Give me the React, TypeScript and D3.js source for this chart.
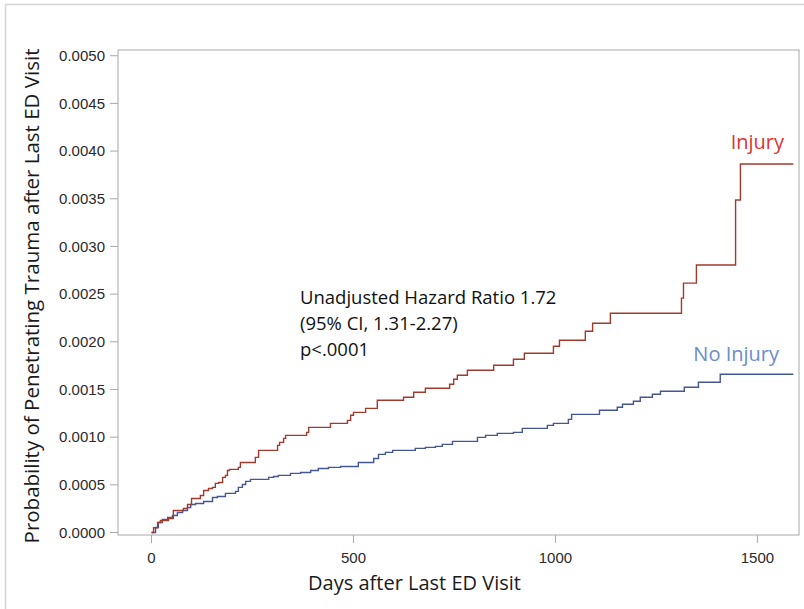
import React from 'react';
import * as d3 from 'd3';

// cumulative incidence, step points
const injuryDays = [0, 5, 15, 22, 42, 54, 79, 89, 99, 121, 129, 141, 151, 158, 166, 176, 183, 188, 193, 215, 220, 257, 265, 312, 317, 327, 332, 384, 389, 443, 485, 493, 500, 530, 559, 624, 649, 678, 738, 748, 757, 782, 847, 896, 923, 995, 1010, 1074, 1092, 1136, 1312, 1317, 1349, 1446, 1458, 1589];
const injuryProb = [0, 0.00005, 0.000105, 0.000126, 0.000147, 0.000231, 0.000252, 0.000294, 0.000357, 0.000389, 0.000441, 0.000462, 0.000473, 0.000515, 0.000525, 0.000578, 0.000599, 0.000651, 0.000662, 0.000683, 0.000735, 0.000788, 0.000861, 0.000914, 0.000945, 0.000987, 0.001019, 0.00105, 0.001103, 0.001145, 0.001176, 0.001229, 0.00126, 0.001302, 0.001387, 0.001418, 0.001471, 0.001513, 0.001555, 0.001607, 0.001649, 0.001702, 0.001754, 0.001817, 0.00188, 0.001954, 0.002017, 0.002111, 0.002195, 0.0023, 0.002458, 0.002615, 0.002805, 0.003487, 0.003865, 0.003865];

const noInjuryDays = [0, 10, 17, 27, 40, 52, 64, 77, 89, 97, 109, 129, 151, 163, 183, 208, 215, 225, 233, 245, 290, 302, 314, 344, 369, 394, 413, 438, 468, 512, 550, 562, 579, 597, 653, 678, 703, 720, 745, 807, 827, 856, 896, 918, 980, 995, 1032, 1040, 1109, 1153, 1166, 1193, 1210, 1240, 1260, 1319, 1354, 1408, 1589];
const noInjuryProb = [0, 0.000053, 0.000105, 0.000137, 0.000158, 0.000179, 0.00021, 0.000231, 0.000263, 0.000294, 0.000305, 0.000326, 0.000368, 0.000378, 0.00041, 0.000431, 0.000473, 0.000504, 0.000536, 0.000557, 0.000578, 0.000588, 0.000599, 0.00062, 0.00063, 0.000651, 0.000672, 0.000683, 0.000693, 0.000735, 0.000777, 0.000819, 0.00084, 0.000861, 0.000882, 0.000893, 0.000903, 0.000924, 0.000956, 0.000998, 0.001019, 0.00104, 0.00105, 0.001092, 0.001124, 0.001145, 0.001187, 0.001239, 0.001282, 0.001313, 0.001345, 0.001376, 0.001418, 0.00145, 0.001481, 0.001523, 0.001576, 0.00166, 0.00166];

const yTicks = [0, 0.0005, 0.001, 0.0015, 0.002, 0.0025, 0.003, 0.0035, 0.004, 0.0045, 0.005];
const xTicks = [0, 500, 1000, 1500];

const annotation = ['Unadjusted Hazard Ratio 1.72', '(95% CI, 1.31-2.27)', 'p<.0001'];

const W = 804;
const H = 609;
const frame = { left: 118, right: 799, top: 50, bottom: 535 };

const tickFont = '"Liberation Sans", Arial, sans-serif';
const textFont = '"Open Sans", "Noto Sans", sans-serif';

export default function App() {
  const x = d3.scaleLinear().domain([-83, 1603]).range([frame.left, frame.right]);
  const y = d3.scaleLinear().domain([-0.000026, 0.00506]).range([frame.bottom, frame.top]);

  const line = d3
    .line<[number, number]>()
    .x((d) => x(d[0]))
    .y((d) => y(d[1]))
    .curve(d3.curveStepAfter);

  const injuryPath = line(injuryDays.map((d, i) => [d, injuryProb[i]]) as [number, number][]);
  const noInjuryPath = line(noInjuryDays.map((d, i) => [d, noInjuryProb[i]]) as [number, number][]);

  return (
    <svg
      width={W}
      height={H}
      style={{ position: 'absolute', left: 0, top: 0, background: '#fff' }}
    >
      {/* outer screenshot border */}
      <line x1={5.5} x2={5.5} y1={4} y2={H} stroke="#d4d4d4" strokeWidth={1.5} />
      <line x1={5} x2={W} y1={4.5} y2={4.5} stroke="#d4d4d4" strokeWidth={1.5} />

      {/* plot frame */}
      <rect
        x={frame.left}
        y={frame.top}
        width={frame.right - frame.left}
        height={frame.bottom - frame.top}
        fill="none"
        stroke="#a8a8a8"
        strokeWidth={1}
      />

      {/* y axis */}
      {yTicks.map((t) => (
        <g key={t}>
          <line x1={frame.left - 8} x2={frame.left} y1={y(t)} y2={y(t)} stroke="#a8a8a8" />
          <text
            x={frame.left - 13}
            y={y(t)}
            dy="0.35em"
            textAnchor="end"
            fontFamily={tickFont}
            fontSize={15}
            fill="#2a2a2a"
          >
            {d3.format('.4f')(t)}
          </text>
        </g>
      ))}

      {/* x axis */}
      {xTicks.map((t) => (
        <g key={t}>
          <line x1={x(t)} x2={x(t)} y1={frame.bottom} y2={frame.bottom + 8} stroke="#a8a8a8" />
          <text
            x={x(t)}
            y={563}
            textAnchor="middle"
            fontFamily={tickFont}
            fontSize={15}
            fill="#2a2a2a"
          >
            {t}
          </text>
        </g>
      ))}

      <text
        x={414.5}
        y={590}
        textAnchor="middle"
        fontFamily={textFont}
        fontSize={20}
        fill="#1a1a1a"
      >
        Days after Last ED Visit
      </text>
      <text
        transform="translate(39,296) rotate(-90)"
        textAnchor="middle"
        fontFamily={textFont}
        fontSize={20.5}
        fill="#1a1a1a"
      >
        Probability of Penetrating Trauma after Last ED Visit
      </text>

      {/* curves */}
      <path d={noInjuryPath ?? ''} fill="none" stroke="#445694" strokeWidth={1.4} />
      <path d={injuryPath ?? ''} fill="none" stroke="#A23A2E" strokeWidth={1.4} />

      {/* annotation */}
      {annotation.map((s, i) => (
        <text key={s} x={300} y={304 + i * 26} fontFamily={textFont} fontSize={18.5} fill="#111">
          {s}
        </text>
      ))}

      {/* series labels */}
      <text x={784} y={149} textAnchor="end" fontFamily={textFont} fontSize={20} fill="#e0312f">
        Injury
      </text>
      <text x={779} y={361} textAnchor="end" fontFamily={textFont} fontSize={20} fill="#6c8ccc">
        No Injury
      </text>
    </svg>
  );
}
